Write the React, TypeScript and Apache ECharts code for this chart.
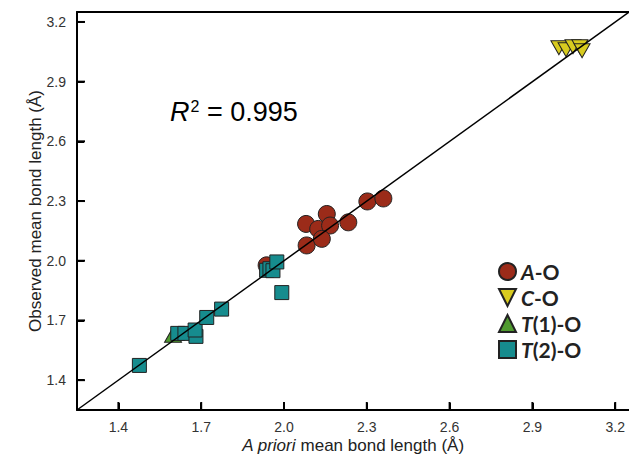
import React, { useEffect, useRef } from "react";
import * as echarts from "echarts";

const seriesNames = ["A-O", "C-O", "T(1)-O", "T(2)-O"];
const aoPoints: number[][] = [
  [1.937, 1.977], [2.082, 2.077], [2.08, 2.185], [2.155, 2.235], [2.124, 2.16],
  [2.167, 2.177], [2.137, 2.11], [2.233, 2.193], [2.302, 2.298], [2.36, 2.313],
];
const coPoints: number[][] = [
  [2.996, 3.07], [3.022, 3.06], [3.047, 3.075], [3.072, 3.075], [3.08, 3.055],
];
const t1Points: number[][] = [[1.598, 1.628]];
const t2Points: number[][] = [
  [1.476, 1.474], [1.615, 1.635], [1.641, 1.635], [1.681, 1.62], [1.678, 1.652],
  [1.72, 1.715], [1.774, 1.757], [1.937, 1.952], [1.949, 1.96], [1.96, 1.95],
  [1.974, 1.994], [1.992, 1.84],
];
const identityLine: number[][] = [[1.25, 1.25], [3.25, 3.25]];
const axisMin = 1.25;
const axisMax = 3.25;
const tickValues = [1.4, 1.7, 2.0, 2.3, 2.6, 2.9, 3.2];

const downTri = "path://M0,0L10,0L5,10Z";
const upTri = "path://M5,0L10,10L0,10Z";

export default function App() {
  const ref = useRef<HTMLDivElement>(null);
  useEffect(() => {
    if (!ref.current) return;
    const chart = echarts.init(ref.current, undefined, { renderer: "svg" });
    const labelFont = { fontFamily: "Liberation Sans, Arial, sans-serif", fontSize: 14, color: "#333" };
    const axisCommon = {
      type: "value",
      min: axisMin,
      max: axisMax,
      axisLine: { show: true, lineStyle: { color: "#000", width: 2 } },
      axisTick: { show: true, inside: true, length: 7, lineStyle: { color: "#000", width: 2 }, customValues: tickValues },
      axisLabel: { ...labelFont, customValues: tickValues, formatter: (v: number) => v.toFixed(1) },
      splitLine: { show: false },
      nameLocation: "middle",
      nameMoveOverlap: false,
    };
    const border = { borderColor: "#222", borderWidth: 1, opacity: 1 };
    const xTickData = tickValues.map((v) => [v, axisMin]);
    const yTickData = tickValues.map((v) => [axisMin, v]);
    chart.setOption({
      animation: false,
      grid: { left: 77, top: 12, right: 0, bottom: 47, containLabel: false },
      xAxis: [
        {
          ...axisCommon,
          name: "{i|A priori}{n| mean bond length (Å)}",
          nameGap: 27,
          nameTextStyle: {
            rich: {
              i: { fontStyle: "italic", fontFamily: "Liberation Sans, Arial", fontSize: 17, color: "#222" },
              n: { fontFamily: "Liberation Sans, Arial", fontSize: 17, color: "#222" },
            },
          },
          axisLabel: { ...axisCommon.axisLabel, margin: 10 },
        },
        {
          type: "value",
          position: "top",
          min: axisMin,
          max: axisMax,
          axisLine: { show: true, onZero: false, lineStyle: { color: "#000", width: 2 } },
          axisTick: { show: false },
          axisLabel: { show: false },
          splitLine: { show: false },
        },
      ],
      yAxis: {
        ...axisCommon,
        name: "Observed mean bond length (Å)",
        nameGap: 33,
        nameTextStyle: { fontFamily: "Liberation Sans, Arial", fontSize: 17, color: "#222" },
        axisLabel: { ...axisCommon.axisLabel, margin: 11 },
      },
      legend: {
        orient: "vertical",
        left: 493,
        top: 256,
        itemWidth: 17,
        itemHeight: 17,
        itemGap: 5,
        data: [
          { name: "A-O", icon: "circle" },
          { name: "C-O", icon: downTri },
          { name: "T(1)-O", icon: upTri },
          { name: "T(2)-O", icon: "rect" },
        ],
        formatter: (name: string) => `{i|${name[0]}}{n|${name.slice(1)}}`,
        textStyle: {
          rich: {
            i: { fontStyle: "italic", fontWeight: "bold", fontFamily: "Lato, Open Sans", fontSize: 21, lineHeight: 18, color: "#222" },
            n: { fontWeight: "bold", fontFamily: "Lato, Open Sans", fontSize: 21, lineHeight: 18, color: "#222" },
          },
        },
      },
      graphic: [
        {
          type: "text",
          left: 170,
          top: 98,
          style: {
            text: "{i|R}{s|2}{n| = 0.995}",
            rich: {
              i: { fontStyle: "italic", fontFamily: "Liberation Sans, Arial", fontSize: 27, color: "#111" },
              s: { fontFamily: "Liberation Sans, Arial", fontSize: 16, color: "#111", verticalAlign: "top", padding: [0, 0, 12, 1] },
              n: { fontFamily: "Liberation Sans, Arial", fontSize: 27, color: "#111" },
            },
          },
        },
      ],
      series: [
        {
          name: "xticks", type: "scatter", data: xTickData, symbol: "rect", symbolSize: [2, 8],
          symbolOffset: [0, -4], itemStyle: { color: "#000", opacity: 1 }, silent: true, clip: false, z: 2,
        },
        {
          name: "yticks", type: "scatter", data: yTickData, symbol: "rect", symbolSize: [8, 2],
          symbolOffset: [4, 0], itemStyle: { color: "#000", opacity: 1 }, silent: true, clip: false, z: 2,
        },
        {
          name: seriesNames[0], type: "scatter", data: aoPoints, symbol: "circle", symbolSize: 17,
          itemStyle: { color: "#9b2b19", ...border }, z: 3,
        },
        {
          name: seriesNames[1], type: "scatter", data: coPoints, symbol: downTri, symbolSize: [16, 14],
          itemStyle: { color: "#d8cb1f", ...border }, z: 3,
        },
        {
          name: seriesNames[2], type: "scatter", data: t1Points, symbol: upTri, symbolSize: [17, 15],
          itemStyle: { color: "#4f9a2f", ...border }, z: 3,
        },
        {
          name: seriesNames[3], type: "scatter", data: t2Points, symbol: "rect", symbolSize: 14,
          itemStyle: { color: "#168c8e", ...border }, z: 4,
        },
        {
          name: "1:1", type: "line", data: identityLine, showSymbol: false, symbol: "none",
          lineStyle: { color: "#000", width: 1.5 }, z: 6, silent: true,
        },
      ],
    });
    return () => chart.dispose();
  }, []);
  return <div ref={ref} style={{ width: 629, height: 459, position: "absolute", left: 0, top: 0, background: "#fff" }} />;
}
